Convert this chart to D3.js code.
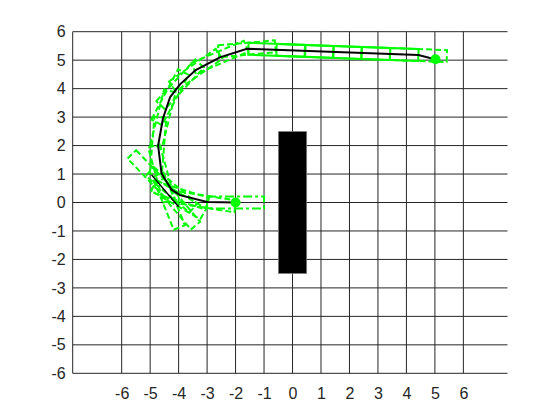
<!DOCTYPE html>
<html><head><meta charset="utf-8">
<script src="https://cdn.jsdelivr.net/npm/d3@7"></script>
<style>body{margin:0;background:#fff}svg{display:block}</style>
</head><body>
<script>
// ---- data ----
const xTicks = [-6,-5,-4,-3,-2,-1,0,1,2,3,4,5,6];
const yTicks = [-6,-5,-4,-3,-2,-1,0,1,2,3,4,5,6];
const pathX = [-2.0,-3.0,-3.95,-4.25,-4.6,-4.72,-4.55,-4.3,-3.95,-3.4,-2.55,-1.6,4.42,5.0];
const pathY = [0.0,0.02,0.26,0.45,1.02,2.0,2.95,3.7,4.15,4.65,5.1,5.4,5.18,5.03];
const cuspX = [-4.95,-4.0];
const cuspY = [0.97,-0.15];
const obstacle = {x0:-0.5, x1:0.5, y0:-2.5, y1:2.5};
const startPt = [-2.0, 0.0];
const goalPt = [5.02, 5.03];
// vehicle footprints (length 2, width 0.44) on the straight part, drawn solid where they overlap
const solidCx  = [-0.55,0.44,1.43,2.43,3.42];
const solidCy  = [5.362,5.326,5.289,5.253,5.217];
const solidAng = [-2.1,-2.1,-2.1,-2.1,-2.1];
// dashed footprints
const dashCx  = [4.42,-1.6,-2.55,-3.4,-3.95,-4.3,-4.55,-4.72,-4.6,-4.25,-3.95,-3.0,-4.95,-4.35,-4.05,-4.0];
const dashCy  = [5.18,5.4,5.1,4.65,4.15,3.7,2.95,2.0,1.02,0.45,0.26,0.02,0.97,0.05,-0.05,0.1];
const dashAng = [-2.1,5,23,35,47,62,76,85.5,-74.5,-40,-17.5,-9,-46,-68,-50,-30];
// start pose footprint (dash-dot)
const startCx = [-2.0];
const startCy = [0.0];
const startAng = [0];
const carLen = 2.0;
const carWidth = 0.42;

// ---- layout ----
const W = 560, H = 420;
const svg = d3.select("body").append("svg").attr("width", W).attr("height", H);
const x = d3.scaleLinear().domain([-7.72, 7.55]).range([72.7, 507.5]);
const y = d3.scaleLinear().domain([-6, 6]).range([373.3, 31.7]);
const k = x(1) - x(0);
const gridColor = "#262626";

// grid
svg.append("g").selectAll("line").data(xTicks).join("line")
  .attr("x1", d => x(d)).attr("x2", d => x(d))
  .attr("y1", y(-6)).attr("y2", y(6))
  .attr("stroke", gridColor).attr("stroke-width", 1);
svg.append("g").selectAll("line").data(yTicks).join("line")
  .attr("x1", x.range()[0]).attr("x2", x.range()[1])
  .attr("y1", d => y(d)).attr("y2", d => y(d))
  .attr("stroke", gridColor).attr("stroke-width", 1);
svg.append("line").attr("x1", x.range()[0]).attr("x2", x.range()[0])
  .attr("y1", y(-6)).attr("y2", y(6)).attr("stroke", gridColor).attr("stroke-width", 1);

// axes labels
const fontFam = "'Liberation Sans', Arial, Helvetica, sans-serif";
const gx = svg.append("g").attr("transform", `translate(0,${y(-6)})`)
  .call(d3.axisBottom(x).tickValues(xTicks).tickSize(0).tickPadding(14));
const gy = svg.append("g").attr("transform", `translate(${x.range()[0]},0)`)
  .call(d3.axisLeft(y).tickValues(yTicks).tickSize(0).tickPadding(7));
[gx, gy].forEach(g => {
  g.select(".domain").remove();
  g.selectAll("text").attr("font-family", fontFam).attr("font-size", 16).attr("fill", "#262626")
    .text(d => d < 0 ? "-" + Math.abs(d) : String(d));
});

// obstacle
svg.append("rect")
  .attr("x", x(obstacle.x0)).attr("y", y(obstacle.y1))
  .attr("width", x(obstacle.x1) - x(obstacle.x0))
  .attr("height", y(obstacle.y0) - y(obstacle.y1))
  .attr("fill", "#000").attr("stroke", "#999").attr("stroke-width", 0.6);

// footprints
function drawBoxes(cx, cy, ang, dash) {
  svg.append("g").selectAll("rect").data(cx.map((d, i) => i)).join("rect")
    .attr("transform", i => `translate(${x(cx[i])},${y(cy[i])}) rotate(${-ang[i]})`)
    .attr("x", -carLen * k / 2).attr("y", -carWidth * k / 2)
    .attr("width", carLen * k).attr("height", carWidth * k)
    .attr("fill", "none").attr("stroke", "#00ff00").attr("stroke-width", 2)
    .attr("stroke-dasharray", dash);
}
drawBoxes(dashCx, dashCy, dashAng, "6,3");
drawBoxes(startCx, startCy, startAng, "9,3,3,3");
drawBoxes(solidCx, solidCy, solidAng, null);

// path
const line = d3.line().x(d => x(d[0])).y(d => y(d[1]));
svg.append("path").datum(pathX.map((d, i) => [d, pathY[i]]))
  .attr("d", line).attr("fill", "none").attr("stroke", "#000").attr("stroke-width", 2);
svg.append("path").datum(cuspX.map((d, i) => [d, cuspY[i]]))
  .attr("d", line).attr("fill", "none").attr("stroke", "#000").attr("stroke-width", 1.5);

// markers
svg.append("g").selectAll("circle").data([startPt, goalPt]).join("circle")
  .attr("cx", d => x(d[0])).attr("cy", d => y(d[1])).attr("r", 5)
  .attr("fill", "#00ff00");
</script>
</body></html>
